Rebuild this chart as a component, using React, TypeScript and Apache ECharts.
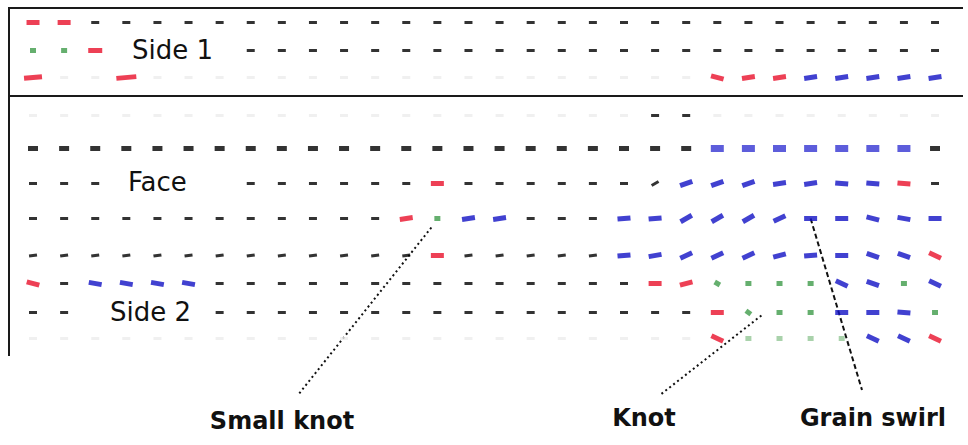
import React, { useEffect, useRef } from "react";
import * as echarts from "echarts";

// Column positions along the board (30 sample points per row)
const columnCount = 30;

// Row positions across the board (Side 1: rows 0-2, Face: rows 3-6, Side 2: rows 7-10)
const rowPos = [22, 50, 77, 115, 148, 183, 218, 255, 283, 312, 338];

// Mark codes per row: k/K = black (normal/thick), r = red, b = blue, g = green, . = faint, space = none
const rowCodes = [
  "rrkkkkkkkkkkkkkkkkkkkkkkkkkkkk",
  "ggr    kkkkkkkkkkkkkkkkkkkkkkk",
  "r..r..................rrrbbbbb",
  "....................kk........",
  "KKKKKKKKKKKKKKKKKKKKKKbbbbbbbK",
  "kkk    kkkkkkrkkkkkkkbbbbbbbrk",
  "kkkkkkkkkkkkrgbbkkkbbbbbbbbbbb",
  "kkkkkkkkkkkkkrkkkkkbbbbbbbbbbr",
  "rkbbbbkkkkkkkkkkkkkkrrggggbbgb",
  "kk    kkkkkkkkkkkkkkkkrgggbbbg",
  "......................rggggbbr",
];

// Default tilt (degrees) for black marks per row
const rowTilt = [0, 0, 0, 0, 0, 0, 0, 8, 0, 0, 0];

// Grain angles [row, col, degrees]
const grainAngles: [number, number, number][] = [
  [2, 0, 5], [2, 3, 5], [2, 22, -15], [2, 23, 8], [2, 24, 8], [2, 25, 8], [2, 26, 8], [2, 27, 8], [2, 28, 8], [2, 29, 8],
  [5, 20, 30], [5, 21, 20], [5, 22, 20], [5, 23, 20], [5, 24, 8], [5, 25, 8], [5, 26, -5], [5, 27, -5], [5, 28, -5],
  [6, 12, 8], [6, 14, 8], [6, 15, 8], [6, 19, 5], [6, 20, 5], [6, 21, 30], [6, 22, 30], [6, 23, 30], [6, 24, 25], [6, 27, -15], [6, 28, -10],
  [7, 19, 5], [7, 20, 10], [7, 21, 25], [7, 22, 25], [7, 23, 25], [7, 24, 15], [7, 25, 5], [7, 27, -20], [7, 28, -20], [7, 29, -25],
  [8, 0, -15], [8, 2, -10], [8, 3, -10], [8, 4, -10], [8, 5, -10], [8, 21, 15], [8, 22, -30], [8, 26, -25], [8, 27, -20], [8, 29, -25],
  [9, 23, -35], [9, 28, -5],
  [10, 22, -25], [10, 27, -25], [10, 28, -25], [10, 29, -25],
];

// Mark length overrides [row, col, length]
const lengthOverrides: [number, number, number][] = [
  [2, 0, 18], [2, 3, 20], [1, 2, 14], [1, 0, 6], [5, 20, 8],
];

const codeLength: Record<string, number> = { k: 8, K: 10, r: 13, b: 13, g: 6, ".": 8 };
const codeThick: Record<string, number> = { k: 3, K: 5, r: 5, b: 5, g: 5, ".": 3 };
const codeColor: Record<string, string> = {
  k: "#000000", K: "#000000", r: "#e8102a", b: "#1212c4", g: "#3f9b4a", ".": "#ececec",
};

const sectionLabels = [
  { text: "Side 1", x: 132, y: 50 },
  { text: "Face", x: 128, y: 182 },
  { text: "Side 2", x: 110, y: 312 },
];

const annotations = [
  { label: "Small knot", mark: [13, 218], offset: [-6, 9], end: [298, 395], labelAt: [282, 421], dash: [2, 3] },
  { label: "Knot", mark: [23, 312], offset: [13, 3], end: [660, 395], labelAt: [644, 418], dash: [2, 3] },
  { label: "Grain swirl", mark: [25, 218], offset: [0, 0], end: [862, 390], labelAt: [873, 418], dash: [5, 3] },
];

export default function App() {
  const ref = useRef<HTMLDivElement>(null);
  useEffect(() => {
    const chart = echarts.init(ref.current!, null, { renderer: "svg" });
    const angleMap = new Map<string, number>();
    grainAngles.forEach(([r, c, a]) => angleMap.set(r + "," + c, a));
    const lenMap = new Map<string, number>();
    lengthOverrides.forEach(([r, c, l]) => lenMap.set(r + "," + c, l));

    const data: any[] = [];
    rowCodes.forEach((codes, r) => {
      for (let c = 0; c < Math.min(columnCount, codes.length); c++) {
        const ch = codes[c];
        if (ch === " ") continue;
        const key = r + "," + c;
        const ang = angleMap.has(key) ? angleMap.get(key)! : ch === "k" ? rowTilt[r] : 0;
        let len = lenMap.has(key) ? lenMap.get(key)! : codeLength[ch];
        let th = codeThick[ch];
        let color = codeColor[ch];
        if (r === 4 && ch === "b") { th = 7; len = 13; color = "#3434d2"; }
        if (r === 10 && ch === "g") color = "#94c796";
        data.push({
          value: [c, rowPos[r]],
          symbolSize: [len, th],
          symbolRotate: ang,
          itemStyle: { color },
        });
      }
    });

    chart.setOption({
      animation: false,
      grid: { left: 10, right: 0, top: 0, bottom: 0 },
      xAxis: { type: "value", min: -0.74, max: 30.06, show: false },
      yAxis: { type: "value", inverse: true, min: -0.5, max: 444.5, show: false },
      series: [{ type: "scatter", symbol: "rect", data, silent: true }],
    });

    const graphic: any[] = [
      { type: "line", shape: { x1: 8, y1: 8, x2: 963, y2: 8 }, style: { stroke: "#1a1a1a", lineWidth: 2 } },
      { type: "line", shape: { x1: 8, y1: 96, x2: 963, y2: 96 }, style: { stroke: "#1a1a1a", lineWidth: 2 } },
      { type: "line", shape: { x1: 9, y1: 7, x2: 9, y2: 356 }, style: { stroke: "#1a1a1a", lineWidth: 2 } },
    ];
    sectionLabels.forEach((s) =>
      graphic.push({
        type: "text",
        x: s.x,
        y: s.y,
        style: { text: s.text, fill: "#111", fontSize: 26, fontFamily: "DejaVu Sans", verticalAlign: "middle", align: "left" },
      })
    );
    annotations.forEach((a) => {
      const p = chart.convertToPixel({ gridIndex: 0 }, a.mark) as number[];
      graphic.push({
        type: "line",
        shape: { x1: p[0] + a.offset[0], y1: p[1] + a.offset[1], x2: a.end[0], y2: a.end[1] },
        style: { stroke: "#111", lineWidth: 2, lineDash: a.dash },
      });
      graphic.push({
        type: "text",
        x: a.labelAt[0],
        y: a.labelAt[1],
        style: { text: a.label, fill: "#111", fontSize: 24, fontFamily: "DejaVu Sans", fontWeight: "bold", align: "center", verticalAlign: "middle" },
      });
    });
    chart.setOption({ graphic });
    return () => chart.dispose();
  }, []);
  return <div ref={ref} style={{ position: "absolute", left: 0, top: 0, width: 968, height: 445 }} />;
}
